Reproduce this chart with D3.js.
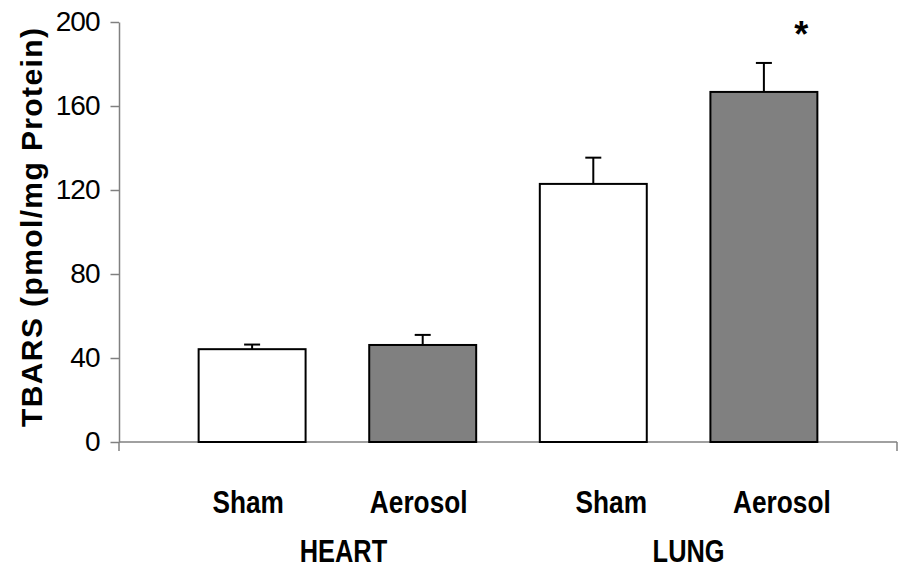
<!DOCTYPE html>
<html>
<head>
<meta charset="utf-8">
<script src="https://cdn.jsdelivr.net/npm/d3@7"></script>
<style>
  body { margin: 0; background: #fff; }
  svg { display: block; font-family: "Liberation Sans", Arial, sans-serif; }
  .axis path, .axis line { stroke: #808080; stroke-width: 1.5; }
  .axis text { font-size: 28px; fill: #000; letter-spacing: -1px; }
</style>
</head>
<body>
<div id="chart"></div>
<script>
// values
let keys = ['heartSham', 'heartAerosol', 'lungSham', 'lungAerosol'];
let treatments = ['Sham', 'Aerosol', 'Sham', 'Aerosol'];
let organs = ['HEART', 'HEART', 'LUNG', 'LUNG'];
let means = [44.2, 46.2, 122.9, 166.7];
let errors = [2.2, 4.8, 12.5, 13.8];
let marked = [false, false, false, true];
let yTicks = [0, 40, 80, 120, 160, 200];
let yTitle = 'TBARS (pmol/mg Protein)';

let width = 901, height = 568;
let plotLeft = 119, plotRight = 897, plotTop = 22, plotBottom = 442;

let svg = d3.select('#chart')
  .append('svg')
  .attr('width', width)
  .attr('height', height);

let y = d3.scaleLinear()
  .domain([0, 200])
  .range([plotBottom, plotTop]);

let x = d3.scaleBand()
  .domain(keys)
  .range([135, 881])
  .paddingInner(0.373)
  .paddingOuter(0.373);

let data = keys.map((k, i) => ({
  key: k, treatment: treatments[i], organ: organs[i],
  mean: means[i], err: errors[i], marked: marked[i]
}));

// y axis
svg.append('g')
  .attr('class', 'axis')
  .attr('transform', `translate(${plotLeft},0)`)
  .call(d3.axisLeft(y).tickValues(yTicks).tickSizeInner(8.5).tickSizeOuter(0).tickPadding(11));

// x axis line with end ticks
let xa = svg.append('g').attr('class', 'axis');
xa.append('line')
  .attr('x1', plotLeft).attr('x2', plotRight)
  .attr('y1', plotBottom).attr('y2', plotBottom);
xa.selectAll('.endtick')
  .data([plotLeft, plotRight])
  .enter()
  .append('line')
  .attr('x1', d => d).attr('x2', d => d)
  .attr('y1', plotBottom).attr('y2', plotBottom + 9);

// error bars
let eb = svg.selectAll('.err')
  .data(data)
  .enter()
  .append('g')
  .attr('class', 'err')
  .attr('stroke', '#000')
  .attr('stroke-width', 2);
eb.append('line')
  .attr('x1', d => x(d.key) + x.bandwidth() / 2)
  .attr('x2', d => x(d.key) + x.bandwidth() / 2)
  .attr('y1', d => y(d.mean))
  .attr('y2', d => y(d.mean + d.err));
eb.append('line')
  .attr('x1', d => x(d.key) + x.bandwidth() / 2 - 8)
  .attr('x2', d => x(d.key) + x.bandwidth() / 2 + 8)
  .attr('y1', d => y(d.mean + d.err))
  .attr('y2', d => y(d.mean + d.err));

// bars
svg.selectAll('.bar')
  .data(data)
  .enter()
  .append('rect')
  .attr('class', 'bar')
  .attr('x', d => x(d.key))
  .attr('width', x.bandwidth())
  .attr('y', d => y(d.mean))
  .attr('height', d => y(0) - y(d.mean))
  .attr('fill', d => d.treatment === 'Sham' ? '#fff' : '#808080')
  .attr('stroke', '#000')
  .attr('stroke-width', 2);

// significance mark
svg.selectAll('.star')
  .data(data.filter(d => d.marked))
  .enter()
  .append('text')
  .attr('x', d => x(d.key) + x.bandwidth() - 16)
  .attr('y', d => y(d.mean + d.err) - 16)
  .attr('text-anchor', 'middle')
  .attr('font-weight', 'bold')
  .attr('font-size', 36)
  .text('*');

// category labels (slightly off-centre in the original)
let labelShift = { HEART: -4, LUNG: 18 };
svg.selectAll('.cat')
  .data(data)
  .enter()
  .append('text')
  .attr('class', 'cat')
  .attr('transform', d => `translate(${x(d.key) + x.bandwidth() / 2 + labelShift[d.organ]},513) scale(0.82,1)`)
  .attr('text-anchor', 'middle')
  .attr('font-weight', 'bold')
  .attr('font-size', 32)
  .text(d => d.treatment);

// organ labels
let organShift = { HEART: 6, LUNG: 10 };
let organList = Array.from(new Set(organs));
svg.selectAll('.organ')
  .data(organList)
  .enter()
  .append('text')
  .attr('class', 'organ')
  .attr('transform', o => {
    let ks = data.filter(d => d.organ === o).map(d => x(d.key) + x.bandwidth() / 2);
    return `translate(${d3.mean(ks) + organShift[o]},562) scale(0.82,1)`;
  })
  .attr('text-anchor', 'middle')
  .attr('font-weight', 'bold')
  .attr('font-size', 31)
  .text(o => o);

// y title
svg.append('text')
  .attr('transform', 'translate(42,227.5) rotate(-90)')
  .attr('text-anchor', 'middle')
  .attr('font-weight', 'bold')
  .attr('font-size', 30)
  .attr('textLength', 399)
  .attr('lengthAdjust', 'spacing')
  .text(yTitle);
</script>
</body>
</html>
